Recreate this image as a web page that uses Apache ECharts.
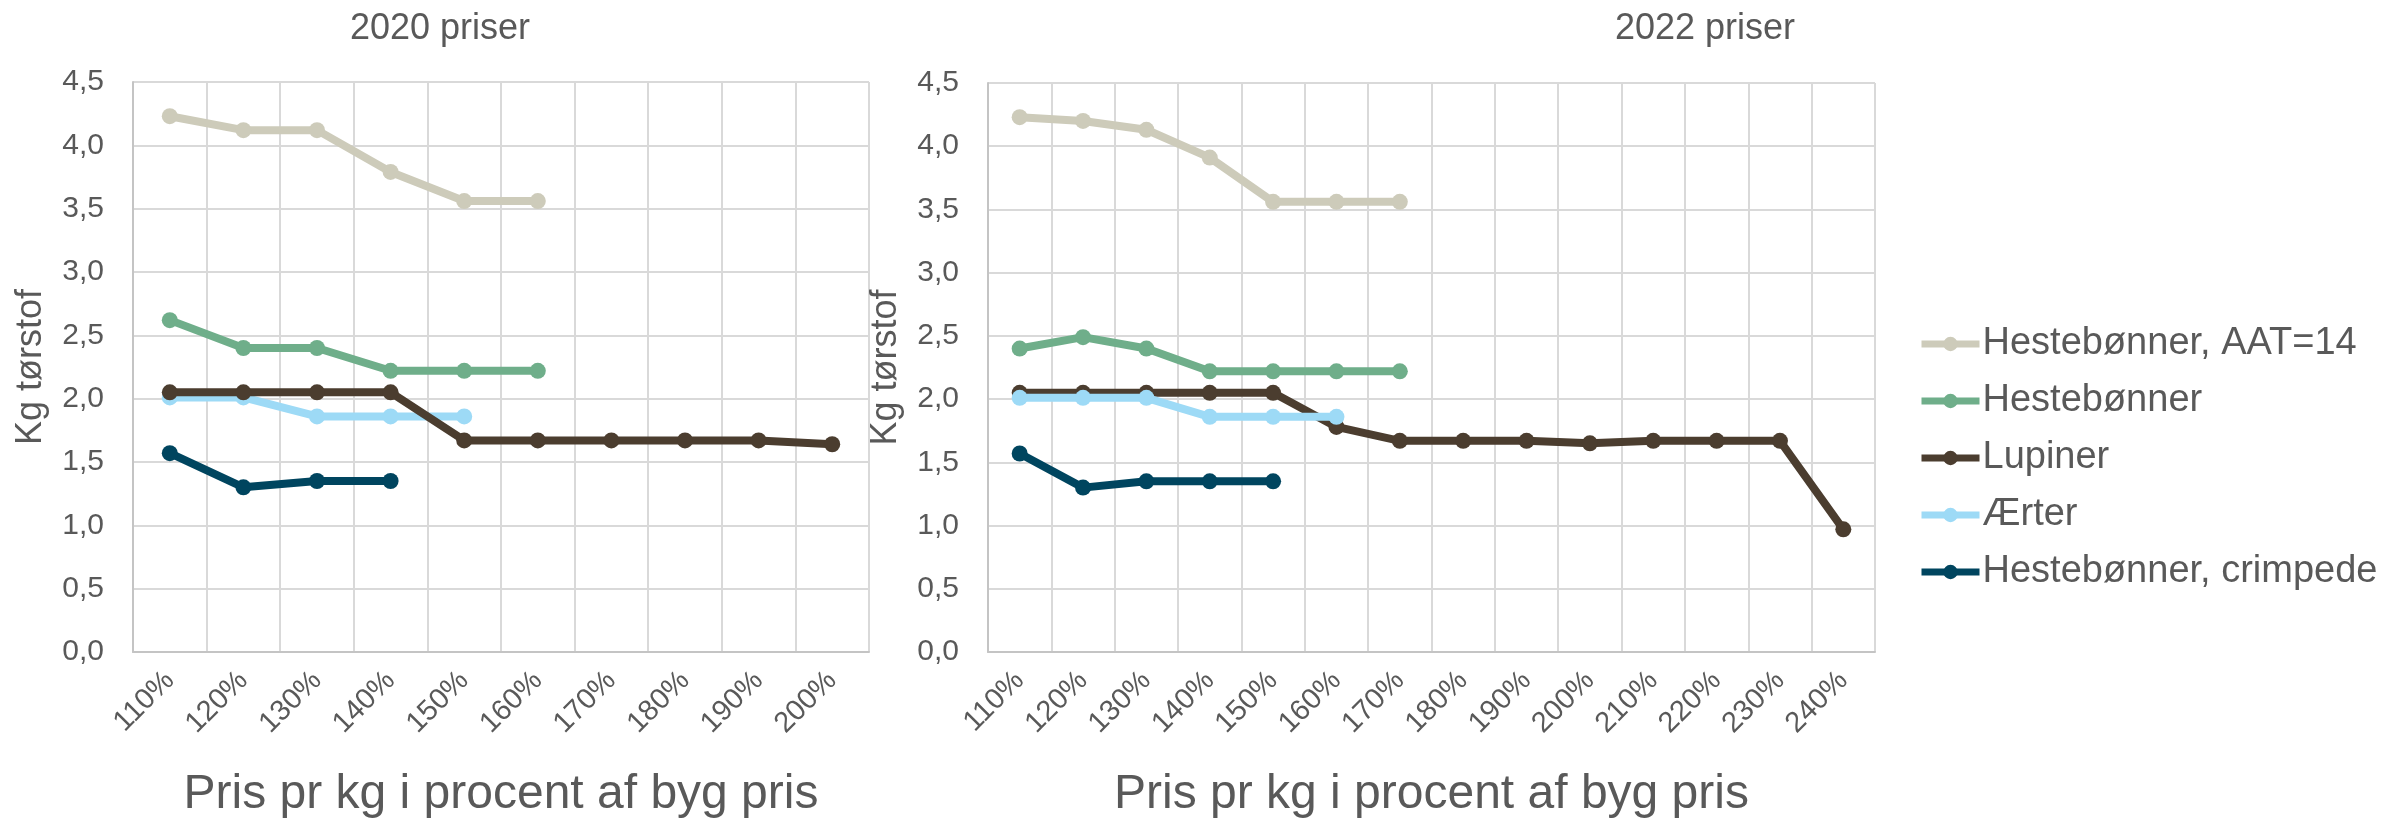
<!DOCTYPE html>
<html>
<head>
<meta charset="utf-8">
<script src="https://cdn.jsdelivr.net/npm/echarts@6/dist/echarts.min.js"></script>
<style>
  html, body { margin: 0; padding: 0; background: #ffffff; }
  #chart { width: 2387px; height: 824px; }
</style>
</head>
<body>
<div id="chart"></div>
<script>
// ---- Data ----
const categories2020 = ['110%', '120%', '130%', '140%', '150%', '160%', '170%', '180%', '190%', '200%'];
const categories2022 = ['110%', '120%', '130%', '140%', '150%', '160%', '170%', '180%', '190%', '200%', '210%', '220%', '230%', '240%'];

const seriesNames = ['Hestebønner, AAT=14', 'Hestebønner', 'Lupiner', 'Ærter', 'Hestebønner, crimpede'];

const aat2020 = [4.23, 4.12, 4.12, 3.79, 3.56, 3.56];
const heste2020 = [2.62, 2.40, 2.40, 2.22, 2.22, 2.22];
const lupiner2020 = [2.05, 2.05, 2.05, 2.05, 1.67, 1.67, 1.67, 1.67, 1.67, 1.64];
const aerter2020 = [2.01, 2.01, 1.86, 1.86, 1.86];
const crimp2020 = [1.57, 1.30, 1.35, 1.35];

const aat2022 = [4.23, 4.20, 4.13, 3.91, 3.56, 3.56, 3.56];
const heste2022 = [2.40, 2.49, 2.40, 2.22, 2.22, 2.22, 2.22];
const lupiner2022 = [2.05, 2.05, 2.05, 2.05, 2.05, 1.78, 1.67, 1.67, 1.67, 1.65, 1.67, 1.67, 1.67, 0.97];
const aerter2022 = [2.01, 2.01, 2.01, 1.86, 1.86, 1.86];
const crimp2022 = [1.57, 1.30, 1.35, 1.35, 1.35];

const yTicks = { min: 0, max: 4.5, interval: 0.5 };

// ---- Styles ----
const colors = {
  'Hestebønner, AAT=14': '#CDCBBA',
  'Hestebønner': '#6FAE8A',
  'Lupiner': '#4B3D2F',
  'Ærter': '#9DDAF6',
  'Hestebønner, crimpede': '#00455F'
};
const FONT = '"Liberation Sans", Arial, sans-serif';
const TXT = '#595959';
const GRIDC = '#D9D9D9';
const AXISC = '#C4C4C4';

function lineSeries(name, data, idx, z) {
  return {
    name: name,
    type: 'line',
    xAxisIndex: idx,
    yAxisIndex: idx,
    data: data,
    symbol: 'circle',
    symbolSize: 16,
    showSymbol: true,
    z: z,
    lineStyle: { width: 8, color: colors[name] },
    itemStyle: { color: colors[name] },
    emphasis: { disabled: true },
    animation: false
  };
}

function xAxisCfg(cats, idx) {
  return {
    type: 'category',
    gridIndex: idx,
    data: cats,
    boundaryGap: true,
    axisLine: { show: true, lineStyle: { color: AXISC, width: 2 } },
    axisTick: { show: false },
    splitLine: { show: true, lineStyle: { color: GRIDC, width: 2 } },
    axisLabel: { rotate: 45, margin: 24, fontSize: 29, color: TXT, fontFamily: FONT, interval: 0 },
    name: 'Pris pr kg i procent af byg pris',
    nameLocation: 'middle',
    nameGap: 119,
    nameTextStyle: { fontSize: 48, color: TXT, fontFamily: FONT }
  };
}

function yAxisCfg(idx) {
  return {
    type: 'value',
    gridIndex: idx,
    min: yTicks.min,
    max: yTicks.max,
    interval: yTicks.interval,
    axisLine: { show: true, lineStyle: { color: AXISC, width: 2 } },
    axisTick: { show: false },
    splitLine: { show: true, lineStyle: { color: GRIDC, width: 2 } },
    axisLabel: {
      margin: 29, fontSize: 30, color: TXT, fontFamily: FONT,
      formatter: v => v.toFixed(1).replace('.', ',')
    },
    name: 'Kg tørstof',
    nameLocation: 'middle',
    nameRotate: 90,
    nameGap: 84,
    nameTextStyle: { fontSize: 36, color: TXT, fontFamily: FONT }
  };
}

const chart = echarts.init(document.getElementById('chart'), null, { renderer: 'canvas' });

const option = {
  backgroundColor: '#ffffff',
  animation: false,
  textStyle: { fontFamily: FONT },
  title: [
    { text: '2020 priser', left: 345, top: 6, textStyle: { fontSize: 36, fontWeight: 'normal', color: TXT, fontFamily: FONT } },
    { text: '2022 priser', left: 1610, top: 6, textStyle: { fontSize: 36, fontWeight: 'normal', color: TXT, fontFamily: FONT } }
  ],
  legend: {
    orient: 'vertical',
    left: 1913,
    top: 319,
    data: seriesNames,
    itemWidth: 58,
    itemHeight: 18,
    itemGap: 17,
    selectedMode: false,
    lineStyle: { width: 7 },
    textStyle: { fontSize: 38, color: TXT, fontFamily: FONT, lineHeight: 40, padding: [0, 0, 0, -2] }
  },
  grid: [
    { left: 133, top: 82, width: 736, height: 575 },
    { left: 988, top: 83, width: 887, height: 574 }
  ],
  xAxis: [xAxisCfg(categories2020, 0), xAxisCfg(categories2022, 1)],
  yAxis: [yAxisCfg(0), yAxisCfg(1)],
  series: [
    lineSeries('Hestebønner, AAT=14', aat2020, 0, 2),
    lineSeries('Hestebønner', heste2020, 0, 2),
    lineSeries('Ærter', aerter2020, 0, 2),
    lineSeries('Lupiner', lupiner2020, 0, 3),
    lineSeries('Hestebønner, crimpede', crimp2020, 0, 2),
    lineSeries('Hestebønner, AAT=14', aat2022, 1, 2),
    lineSeries('Hestebønner', heste2022, 1, 2),
    lineSeries('Lupiner', lupiner2022, 1, 2),
    lineSeries('Ærter', aerter2022, 1, 3),
    lineSeries('Hestebønner, crimpede', crimp2022, 1, 2)
  ]
};

chart.setOption(option);
</script>
</body>
</html>
